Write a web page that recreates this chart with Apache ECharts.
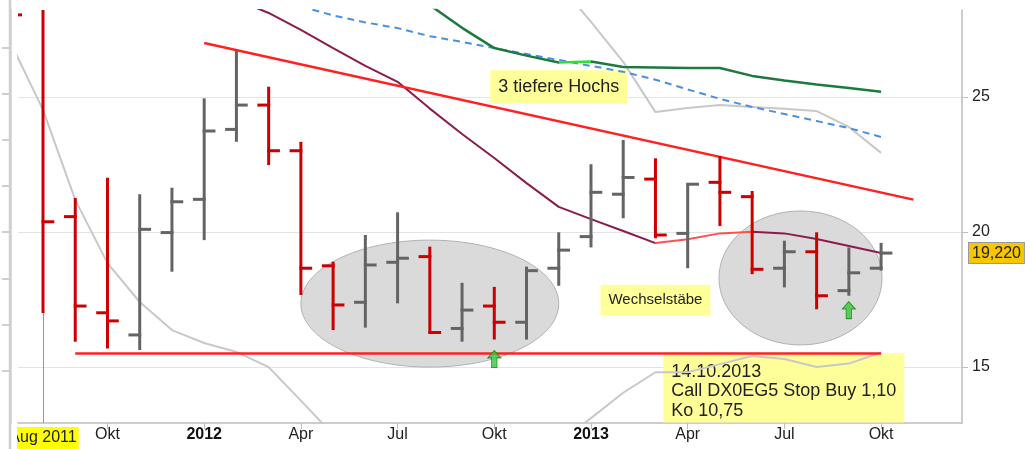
<!DOCTYPE html>
<html>
<head>
<meta charset="utf-8">
<script src="https://cdn.jsdelivr.net/npm/echarts@6/dist/echarts.min.js"></script>
<style>
  html, body { margin: 0; padding: 0; background: #fff; }
  #chart { width: 1036px; height: 449px; }
</style>
</head>
<body>
<div id="chart"></div>
<script>
// Monatsbars Jul 2011 .. Okt 2013 (x = Index in months)
const months = ['Jul 2011', 'Aug 2011', 'Sep 2011', 'Okt 2011', 'Nov 2011', 'Dez 2011',
  'Jan 2012', 'Feb 2012', 'Mär 2012', 'Apr 2012', 'Mai 2012', 'Jun 2012', 'Jul 2012', 'Aug 2012',
  'Sep 2012', 'Okt 2012', 'Nov 2012', 'Dez 2012', 'Jan 2013', 'Feb 2013', 'Mär 2013', 'Apr 2013',
  'Mai 2013', 'Jun 2013', 'Jul 2013', 'Aug 2013', 'Sep 2013', 'Okt 2013'];

const open  = [28.3, 28.4, 20.57, 17.01, 16.19, 19.98, 21.21, 23.80, 24.70, 23.01, 18.75, 17.40, 18.88, 19.09,
  16.43, 17.26, 16.66, 18.66, 19.83, 21.40, 21.96, 19.95, 21.84, 21.31, 18.66, 19.27, 17.83, 18.66];
const high  = [29.4, 29.0, 21.26, 22.01, 21.40, 21.64, 24.95, 26.71, 25.38, 23.34, 18.90, 19.89, 20.73, 19.46,
  18.12, 17.97, 18.72, 19.99, 22.51, 23.41, 22.73, 21.77, 22.81, 21.52, 19.68, 19.99, 19.43, 19.60];
const low   = [27.6, 17.0, 15.94, 15.69, 15.63, 18.53, 19.70, 23.34, 22.48, 17.67, 16.37, 16.46, 17.36, 16.25,
  15.94, 16.02, 16.02, 18.01, 19.43, 20.51, 19.77, 18.66, 20.22, 18.44, 17.95, 17.14, 17.64, 18.57];
const close = [28.04, 20.38, 17.26, 16.71, 20.10, 21.12, 23.74, 24.70, 23.01, 18.66, 17.30, 18.78, 19.03, 16.28,
  17.11, 16.66, 18.57, 19.33, 21.47, 22.02, 19.89, 21.77, 21.47, 18.62, 19.27, 17.64, 18.49, 19.22];

// Indikatoren (null = nicht im Bild)
const avg = [null, null, null, null, null, null, null, 28.6, 28.11, 27.48, 26.81, 26.15, 25.56, 24.57,
  23.63, 22.74, 21.81, 20.93, 20.48, 20.04, 19.59, 19.73, 19.95, 20.01, 19.95, 19.74, 19.48, 19.22];
const avgLong = [null, null, null, null, null, null, null, null, null, null, null, null, null, 28.4,
  27.56, 26.81, 26.53, 26.28, 26.31, 26.11, 26.09, 26.07, 26.07, 25.78, 25.61, 25.46, 25.33, 25.19];
const avgTrend = [null, null, null, null, null, null, null, null, null, 28.35, 28.02, 27.76, 27.55, 27.25,
  27.04, 26.81, 26.59, 26.37, 26.15, 25.93, 25.64, 25.28, 24.93, 24.63, 24.37, 24.11, 23.85, 23.52];
const bandUpper = [null, null, null, null, null, null, null, null, null, null, null, null, null, null,
  null, null, null, 29.2, 27.78, 26.3, 24.44, 24.59, 24.70, 24.63, 24.56, 24.48, 23.89, 22.93];
const bandLower = [27.0, 24.52, 21.19, 18.85, 17.41, 16.37, 15.89, 15.56, 15.0, 13.76, 12.5, null, null, null,
  null, null, null, 12.2, 13.11, 14.05, 14.81, 14.81, 15.11, 15.41, 15.3, 15.0, 15.13, 15.54];

// Trendlinien [Monat, Kurs]
const support = [[2, 15.5], [27, 15.5]];
const resistance = [[6, 27.0], [28, 21.2]];

// Markierungen
const ellipses = [[13, 17.35, 4.0, 2.35], [24.5, 18.30, 2.53, 2.48]];
const arrowX = [15, 26];
const arrowY = [15.30, 17.11];

// Achsen
const labelIdx = [1, 3, 6, 9, 12, 15, 18, 21, 24, 27];
const labelText = ['Aug 2011', 'Okt', '2012', 'Apr', 'Jul', 'Okt', '2013', 'Apr', 'Jul', 'Okt'];
const priceTicks = [15, 20, 25];

const notes = [
  { x: 17, y: 25.37, text: '3 tiefere Hochs', size: 18, align: 'center', va: 'middle', pad: [7, 8, 7, 8] },
  { x: 20, y: 17.48, text: 'Wechselstäbe', size: 15, align: 'center', va: 'middle', pad: [7, 8, 7, 8] },
  { x: 20.24, y: 15.52, text: '14.10.2013\nCall DX0EG5 Stop Buy 1,10\nKo 10,75', size: 18, align: 'left', va: 'top', pad: [9, 8, 2, 8] }
];

const red = '#cc0000';
const gray = '#646464';
const font = '"Liberation Sans", Arial, sans-serif';

const chartDom = document.getElementById('chart');
const myChart = echarts.init(chartDom);

const toXY = (arr) => arr.map((v, i) => [i, v == null ? '-' : v]);
const trim = (arr) => toXY(arr).filter((d) => d[1] !== '-');

function renderBar(params, api) {
  const x = api.value(0);
  const o = api.coord([x, api.value(1)]);
  const h = api.coord([x, api.value(2)]);
  const l = api.coord([x, api.value(3)]);
  const c = api.coord([x, api.value(4)]);
  const tick = api.size([1, 0])[0] * 0.35;
  const color = api.value(4) >= api.value(1) ? gray : red;
  const style = { stroke: color, lineWidth: 3 };
  return {
    type: 'group',
    children: [
      { type: 'line', shape: { x1: h[0], y1: h[1], x2: l[0], y2: l[1] }, style: style },
      { type: 'line', shape: { x1: o[0] - tick, y1: o[1], x2: o[0] + 1.5, y2: o[1] }, style: style },
      { type: 'line', shape: { x1: c[0] - 1.5, y1: c[1], x2: c[0] + tick, y2: c[1] }, style: style }
    ]
  };
}

function renderEllipse(params, api) {
  const c = api.coord([api.value(0), api.value(1)]);
  const s = api.size([api.value(2), api.value(3)]);
  return {
    type: 'ellipse',
    shape: { cx: c[0], cy: c[1], rx: s[0], ry: s[1] },
    style: { fill: '#dadada', stroke: '#b2b2b2', lineWidth: 1 }
  };
}

function renderNote(params, api) {
  const n = notes[params.dataIndex];
  const p = api.coord([api.value(0), api.value(1)]);
  return {
    type: 'text',
    x: p[0],
    y: p[1],
    style: {
      text: n.text,
      fill: '#222',
      fontSize: n.size,
      fontFamily: font,
      lineHeight: n.size + 1.5,
      align: n.align,
      verticalAlign: n.va,
      backgroundColor: '#ffff99',
      padding: n.pad
    }
  };
}

const option = {
  animation: false,
  backgroundColor: '#fff',
  textStyle: { fontFamily: font },
  grid: { left: 18, right: 74, top: 10, bottom: 26, containLabel: false, outerBoundsMode: 'none' },
  xAxis: {
    type: 'value',
    min: 0.224,
    max: 29.51,
    axisLine: { onZero: false, lineStyle: { color: '#bdbdbd', width: 1.5 } },
    axisTick: { customValues: labelIdx.slice(1), length: 6, lineStyle: { color: '#bdbdbd' } },
    splitLine: { show: false },
    axisLabel: {
      customValues: labelIdx,
      margin: 4,
      fontSize: 16,
      color: '#222',
      formatter: function (v) {
        const k = labelIdx.indexOf(v);
        const t = labelText[k];
        if (k === 0) return '{hl|' + t + '}';
        if (/^\d{4}$/.test(t)) return '{b|' + t + '}';
        return t;
      },
      rich: {
        hl: { backgroundColor: '#ffff00', padding: [3, 2, 3, 2], fontSize: 16, color: '#222' },
        b: { fontWeight: 'bold', fontSize: 16, color: '#111' }
      }
    }
  },
  yAxis: [
    {
      type: 'value',
      position: 'right',
      min: 12.93,
      max: 28.22,
      axisLine: { show: true, onZero: false, lineStyle: { color: '#bdbdbd', width: 1.5 } },
      axisTick: { show: true, customValues: priceTicks, length: 6, lineStyle: { color: '#bdbdbd' } },
      axisLabel: { customValues: priceTicks, margin: 10, fontSize: 16, color: '#222' },
      splitLine: { show: true, lineStyle: { color: '#e4e4e4', width: 1 } }
    },
    {
      type: 'value',
      position: 'left',
      offset: 8,
      min: -0.13,
      max: 8.81,
      axisLine: { show: true, onZero: false, lineStyle: { color: '#cfcfcf', width: 2.5 } },
      axisTick: { show: true, customValues: [1, 2, 3, 4, 5, 6, 7, 8], length: 8, lineStyle: { color: '#cfcfcf', width: 2 } },
      axisLabel: { show: false },
      splitLine: { show: false }
    }
  ],
  visualMap: [
    {
      type: 'piecewise', show: false, seriesIndex: 5, dimension: 0,
      pieces: [{ lt: 17, color: '#1d7a3e' }, { gte: 17, lte: 18, color: '#33dd33' }, { gt: 18, color: '#1d7a3e' }]
    },
    {
      type: 'piecewise', show: false, seriesIndex: 6, dimension: 0,
      pieces: [{ lt: 20, color: '#8c1b4b' }, { gte: 20, lte: 23, color: '#ff5050' }, { gt: 23, color: '#8c1b4b' }]
    }
  ],
  graphic: [
    { type: 'rect', left: 0, top: 424, shape: { width: 17, height: 25 }, style: { fill: '#fff' }, z: 100 },
    { type: 'line', shape: { x1: 10, y1: 0, x2: 10, y2: 449 }, style: { stroke: '#cfcfcf', lineWidth: 2.5 }, z: 101 }
  ],
  series: [
    {
      name: 'Ellipsen', type: 'custom', z: 1, silent: true, clip: true,
      renderItem: renderEllipse, encode: { x: 0, y: 1 },
      data: ellipses
    },
    {
      name: 'Notizen', type: 'custom', z: 1, silent: true,
      renderItem: renderNote, encode: { x: 0, y: 1 },
      data: notes.map((n) => [n.x, n.y])
    },
    {
      name: 'Band unten', type: 'line', z: 2, showSymbol: false, connectNulls: false,
      lineStyle: { color: '#c8c8c8', width: 2 }, itemStyle: { color: '#c8c8c8' },
      data: toXY(bandLower)
    },
    {
      name: 'Band oben', type: 'line', z: 2, showSymbol: false,
      lineStyle: { color: '#c8c8c8', width: 2 }, itemStyle: { color: '#c8c8c8' },
      data: trim(bandUpper)
    },
    {
      name: 'Trend', type: 'line', z: 2, showSymbol: false,
      lineStyle: { color: '#4a8fe0', width: 2, type: [7, 5] }, itemStyle: { color: '#4a8fe0' },
      data: trim(avgTrend)
    },
    {
      name: 'GD lang', type: 'line', z: 2, showSymbol: false,
      lineStyle: { width: 2.5 },
      data: trim(avgLong)
    },
    {
      name: 'GD', type: 'line', z: 2, showSymbol: false,
      lineStyle: { width: 2 },
      data: trim(avg)
    },
    {
      name: 'Widerstand', type: 'line', z: 2, showSymbol: false,
      lineStyle: { color: '#ff2020', width: 2.5 }, itemStyle: { color: '#ff2020' },
      data: resistance
    },
    {
      name: 'Unterstützung', type: 'line', z: 2, showSymbol: false,
      lineStyle: { color: '#ff2020', width: 2.5 }, itemStyle: { color: '#ff2020' },
      data: support,
      markLine: {
        z: 2, silent: true, symbol: 'none', animation: false,
        label: { show: false },
        data: [{ xAxis: labelIdx[0], lineStyle: { color: '#ff6a6a', width: 1, type: 'solid', opacity: 1 } }]
      }
    },
    {
      name: 'Kurs', type: 'custom', z: 3, clip: true,
      renderItem: renderBar,
      encode: { x: 0, y: [1, 2, 3, 4] },
      data: months.map((m, i) => [i, open[i], high[i], low[i], close[i]]),
      markLine: {
        silent: true, symbol: 'none', animation: false,
        lineStyle: { color: 'rgba(0,0,0,0)', width: 0 },
        label: {
          show: true, position: 'end', distance: 7,
          formatter: (p) => p.value.toFixed(3).replace('.', ','),
          fontSize: 16, color: '#222',
          backgroundColor: '#f7c600', borderColor: '#999', borderWidth: 1, padding: [2, 3, 2, 3]
        },
        data: [{ yAxis: close[close.length - 1] }]
      }
    },
    {
      name: 'Signal', type: 'scatter', z: 4, silent: true,
      symbol: 'path://M6,0 L12,7 L8.5,7 L8.5,16 L3.5,16 L3.5,7 L0,7 Z',
      symbolSize: [13, 17],
      itemStyle: { color: '#3cc43c', borderColor: '#178a17', borderWidth: 1 },
      data: arrowX.map((x, i) => [x, arrowY[i]])
    }
  ]
};

option && myChart.setOption(option);

window.addEventListener('resize', function () {
  myChart.resize();
});
</script>
</body>
</html>
